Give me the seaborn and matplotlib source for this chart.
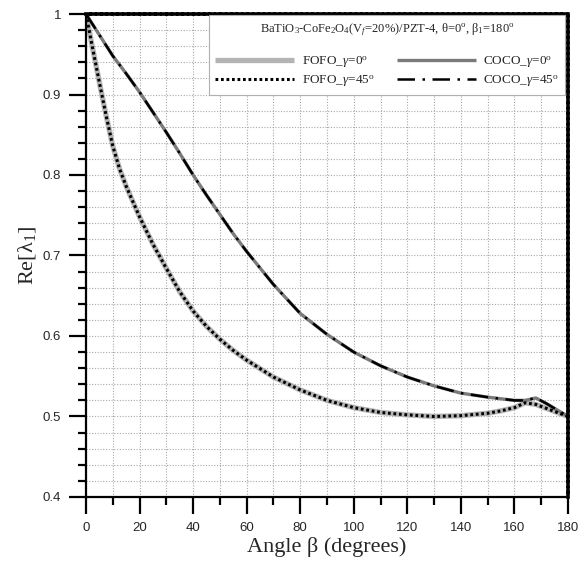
import matplotlib
matplotlib.use("Agg")
import matplotlib.pyplot as plt
from matplotlib.ticker import MultipleLocator
import seaborn as sns
import pandas as pd

# Angle beta (degrees)
beta = [0, 2.5, 5, 7.5, 10, 12.5, 15, 20, 25, 30, 35, 40, 45, 50, 55, 60, 70, 80,
        90, 100, 110, 120, 130, 140, 150, 155, 160, 164, 168, 172, 176, 180]

# Re[lambda_1] for the FOFO interface
fofo_g0 = [1.000, 0.957, 0.915, 0.874, 0.836, 0.808, 0.786, 0.748, 0.714, 0.684,
           0.655, 0.631, 0.612, 0.596, 0.582, 0.570, 0.549, 0.533, 0.520, 0.511,
           0.505, 0.502, 0.500, 0.501, 0.504, 0.507, 0.511, 0.517, 0.515, 0.510,
           0.505, 0.500]
fofo_g45 = [1.000, 0.957, 0.915, 0.874, 0.836, 0.808, 0.786, 0.748, 0.714, 0.684,
            0.655, 0.631, 0.612, 0.596, 0.582, 0.570, 0.549, 0.533, 0.520, 0.511,
            0.505, 0.502, 0.500, 0.501, 0.504, 0.507, 0.511, 0.517, 0.515, 0.510,
            0.505, 0.500]

# Re[lambda_1] for the COCO interface
coco_g0 = [1.000, 0.987, 0.974, 0.961, 0.948, 0.937, 0.926, 0.903, 0.878, 0.853,
           0.827, 0.800, 0.775, 0.751, 0.727, 0.705, 0.664, 0.628, 0.602, 0.580,
           0.563, 0.549, 0.538, 0.529, 0.524, 0.522, 0.520, 0.520, 0.523, 0.516,
           0.508, 0.500]
coco_g45 = [1.000, 0.987, 0.974, 0.961, 0.948, 0.937, 0.926, 0.903, 0.878, 0.853,
            0.827, 0.800, 0.775, 0.751, 0.727, 0.705, 0.664, 0.628, 0.602, 0.580,
            0.563, 0.549, 0.538, 0.529, 0.524, 0.522, 0.520, 0.520, 0.523, 0.516,
            0.508, 0.500]

labels = [r"FOFO_$\gamma$=0$^\mathrm{o}$", r"COCO_$\gamma$=0$^\mathrm{o}$",
          r"FOFO_$\gamma$=45$^\mathrm{o}$", r"COCO_$\gamma$=45$^\mathrm{o}$"]

sns.set_theme(style="white")
plt.rcParams["font.family"] = ["Liberation Sans", "DejaVu Sans"]
plt.rcParams["mathtext.fontset"] = "custom"
plt.rcParams["mathtext.rm"] = "Liberation Serif"
plt.rcParams["mathtext.it"] = "Liberation Serif:italic"
plt.rcParams["mathtext.bf"] = "Liberation Serif:bold"

fig = plt.figure(figsize=(5.87, 5.67), dpi=100)
ax = fig.add_axes([0.1465, 0.1235, 0.8211, 0.8518])

df = pd.DataFrame({"beta": beta})
styles = [
    (fofo_g0, dict(color="#b4b4b4", lw=3.8, solid_capstyle="butt")),
    (coco_g0, dict(color="#7a7a7a", lw=2.4, solid_capstyle="butt")),
    (fofo_g45, dict(color="black", lw=2.2, linestyle=(0, (0.9, 0.9)))),
    (coco_g45, dict(color="black", lw=1.8, linestyle=(0, (7, 3, 1, 3)))),
]
lines = {}
for (vals, kw), lab in zip(styles, labels):
    sns.lineplot(x=df["beta"], y=vals, ax=ax, label=lab, **kw)
    lines[lab] = ax.get_lines()[-1]

ax.set_xlim(0, 180)
ax.set_ylim(0.4, 1.0)
ax.xaxis.set_major_locator(MultipleLocator(20))
ax.xaxis.set_minor_locator(MultipleLocator(10))
ax.yaxis.set_major_locator(MultipleLocator(0.1))
ax.yaxis.set_minor_locator(MultipleLocator(0.02))
ax.set_yticks([0.4, 0.5, 0.6, 0.7, 0.8, 0.9, 1.0])
ax.set_yticklabels(["0.4", "0.5", "0.6", "0.7", "0.8", "0.9", "1"])

ax.grid(which="both", color="#a8a8a8", linestyle=(0, (1, 1.5)), linewidth=0.8)
ax.set_axisbelow(True)

ax.tick_params(which="major", direction="out", length=12, width=1.6,
               labelsize=9.5, pad=6, color="black", left=True, bottom=True)
ax.tick_params(which="minor", direction="out", length=6, width=1.6,
               color="black", left=True, bottom=True)

for side in ("left", "bottom"):
    ax.spines[side].set_color("black")
    ax.spines[side].set_linewidth(1.6)
for side in ("top", "right"):
    ax.spines[side].set_color("black")
    ax.spines[side].set_linewidth(2.6)
    ax.spines[side].set_linestyle((0, (1, 0.5)))

serif = ["Liberation Serif", "DejaVu Serif"]
ax.set_xlabel("Angle β (degrees)", fontsize=16, family=serif, labelpad=2)
ax.set_ylabel("Re[λ$_1$]", fontsize=16, family=serif, labelpad=3)

# legend rows: FOFO/COCO at gamma=0, then FOFO/COCO at gamma=45
order = [labels[0], labels[2], labels[1], labels[3]]
title = (r"BaTiO$_3$-CoFe$_2$O$_4$(V$_f$=20%)/PZT-4, θ=0$^\mathrm{o}$, "
         r"β$_1$=180$^\mathrm{o}$")
leg = ax.legend([lines[k] for k in order], order,
                loc="upper right", bbox_to_anchor=(0.994, 0.998),
                borderaxespad=0, ncol=2,
                title=title, prop={"family": serif, "size": 9.5},
                handlelength=6.0, handletextpad=0.55, columnspacing=1.7,
                frameon=True, fancybox=False, borderpad=0.45, labelspacing=0.3)
leg.get_title().set_fontfamily(serif)
leg.get_title().set_fontsize(9)
leg._legend_box.sep = 12
leg.get_frame().set_edgecolor("#b0b0b0")
leg.get_frame().set_linewidth(0.8)
leg.get_frame().set_alpha(1.0)

fig.savefig("out.png", dpi=100)
